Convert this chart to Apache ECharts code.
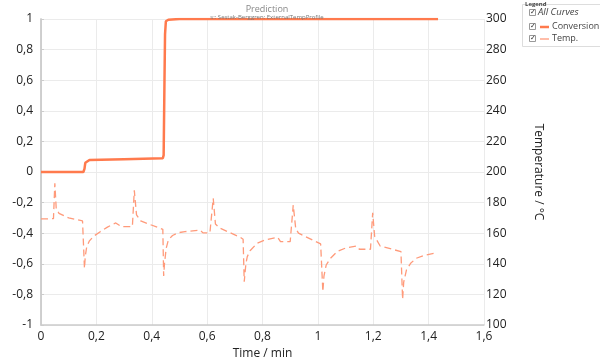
<!DOCTYPE html>
<html><head><meta charset="utf-8">
<script src="https://cdn.jsdelivr.net/npm/echarts@6/dist/echarts.min.js"></script>
<style>html,body{margin:0;padding:0;background:#fff}#c{width:600px;height:361px}</style>
</head><body><div id="c"></div>
<script>
var convTime = [0, 0.153, 0.157, 0.160, 0.163, 0.175, 0.30, 0.44, 0.443, 0.446, 0.448, 0.451, 0.46, 0.50, 1.434];
var convValue = [0, 0, 0.02, 0.06, 0.072, 0.078, 0.084, 0.09, 0.11, 0.60, 0.90, 0.985, 0.995, 1.0, 1.0];
var tempTime = [0, 0.045, 0.050, 0.055, 0.065, 0.10, 0.150, 0.155, 0.157, 0.160, 0.165, 0.175, 0.19, 0.214, 0.24, 0.27, 0.29, 0.33, 0.337, 0.345, 0.36, 0.44, 0.443, 0.446, 0.452, 0.46, 0.475, 0.495, 0.52, 0.575, 0.585, 0.61, 0.622, 0.63, 0.645, 0.72, 0.73, 0.734, 0.74, 0.745, 0.755, 0.78, 0.81, 0.855, 0.865, 0.90, 0.911, 0.92, 0.93, 1.01, 1.018, 1.022, 1.03, 1.045, 1.07, 1.10, 1.14, 1.15, 1.19, 1.198, 1.205, 1.225, 1.30, 1.306, 1.31, 1.32, 1.335, 1.355, 1.385, 1.42];
var tempValue = [169.3, 169.5, 192.6, 176, 173, 170, 168, 167, 137, 145, 151, 155, 158, 161, 164, 166.7, 164.3, 164.3, 188, 172, 168, 162.5, 132, 140, 150, 155.6, 158.5, 160.3, 161, 162, 160.2, 160.2, 182.8, 166, 163.4, 157.3, 156, 128.3, 140, 144.7, 148.5, 153.4, 155.6, 157.3, 154.5, 154.5, 178.4, 163, 160, 153, 121.8, 132, 139.2, 143.5, 148, 150.3, 151.6, 149.5, 149.5, 173.4, 158, 151.6, 148, 116.8, 128, 136, 140.3, 143.6, 145.6, 146.9];

var FONT = '"Open Sans", "Noto Sans", sans-serif';
var convColor = '#ff7a4d';
var tempColor = '#ff9a7a';
function zip(a, b) { return a.map(function (v, i) { return [v, b[i]]; }); }
function comma(v) { return String(+v.toFixed(2)).replace('.', ','); }

var chart = echarts.init(document.getElementById('c'), null, {renderer: 'canvas'});
chart.setOption({
  animation: false,
  backgroundColor: '#fff',
  title: {
    text: 'Prediction',
    subtext: 's:: Sestak-Berggren: ExternalTempProfile',
    left: 262, textAlign: 'center', top: 0, itemGap: 0,
    textStyle: {fontFamily: FONT, fontSize: 9, fontWeight: 'normal', color: '#888'},
    subtextStyle: {fontFamily: FONT, fontSize: 6, color: '#777'}
  },
  grid: {left: 41, right: 116, top: 19, bottom: 36, containLabel: false, outerBoundsMode: 'none'},
  xAxis: {
    type: 'value', min: 0, max: 1.6, interval: 0.2,
    name: 'Time / min', nameLocation: 'middle', nameGap: 22,
    nameTextStyle: {fontFamily: FONT, fontSize: 12, color: '#222'},
    axisLine: {show: true, onZero: false, lineStyle: {color: '#ccc', width: 1.5}},
    axisTick: {show: false},
    axisLabel: {fontFamily: FONT, fontSize: 12, color: '#222', margin: 6, formatter: comma},
    splitLine: {show: true, lineStyle: {color: '#ebebeb', width: 1}}
  },
  yAxis: [{
    type: 'value', min: -1, max: 1, interval: 0.2, position: 'left',
    name: 'Conversion', nameLocation: 'middle', nameGap: 28, nameRotate: 90,
    nameTextStyle: {fontFamily: FONT, fontSize: 12, color: '#222'},
    axisLine: {show: true, onZero: false, lineStyle: {color: '#ccc', width: 1.5}},
    axisTick: {show: false},
    axisLabel: {fontFamily: FONT, fontSize: 12, color: '#222', margin: 8, formatter: comma},
    splitLine: {show: true, lineStyle: {color: '#ebebeb', width: 1}}
  }, {
    type: 'value', min: 100, max: 300, interval: 20, position: 'right',
    name: 'Temperature / °C', nameLocation: 'middle', nameGap: 48, nameRotate: -90,
    nameTextStyle: {fontFamily: FONT, fontSize: 12, color: '#222'},
    axisLine: {show: true, lineStyle: {color: '#ccc', width: 1.5}},
    axisTick: {show: true, length: 3, lineStyle: {color: '#ccc'}},
    axisLabel: {fontFamily: FONT, fontSize: 12, color: '#222', margin: 2},
    splitLine: {show: false}
  }],
  series: [{
    name: 'Conversion', type: 'line', yAxisIndex: 0, showSymbol: false, symbol: 'none',
    data: zip(convTime, convValue),
    lineStyle: {color: convColor, width: 2.5}, z: 3
  }, {
    name: 'Temp.', type: 'line', yAxisIndex: 1, showSymbol: false, symbol: 'none',
    data: zip(tempTime, tempValue),
    lineStyle: {color: tempColor, width: 1.3, type: [7, 4]}, z: 2
  }],
  graphic: [
    {type: 'rect', shape: {x: 522.5, y: 4.5, width: 80, height: 42}, style: {fill: '#fff', stroke: '#ddd', lineWidth: 1}},
    {type: 'text', x: 525, y: 1, style: {text: 'Legend', font: 'bold 6px ' + FONT, fill: '#444'}},
    {type: 'rect', shape: {x: 529.5, y: 9.5, width: 6, height: 6}, style: {fill: '#fff', stroke: '#999'}},
    {type: 'text', x: 529.5, y: 8, style: {text: '✓', font: '7px ' + FONT, fill: '#333'}},
    {type: 'text', x: 538, y: 7, style: {text: 'All Curves', font: 'italic 9.5px ' + FONT, fill: '#444'}},
    {type: 'rect', shape: {x: 529.5, y: 23.5, width: 6, height: 6}, style: {fill: '#fff', stroke: '#999'}},
    {type: 'text', x: 529.5, y: 22, style: {text: '✓', font: '7px ' + FONT, fill: '#333'}},
    {type: 'line', shape: {x1: 540, y1: 27, x2: 549, y2: 27}, style: {stroke: convColor, lineWidth: 2.5}},
    {type: 'text', x: 552, y: 21.5, style: {text: 'Conversion', font: '9px ' + FONT, fill: '#444'}},
    {type: 'rect', shape: {x: 529.5, y: 35.5, width: 6, height: 6}, style: {fill: '#fff', stroke: '#999'}},
    {type: 'text', x: 529.5, y: 34, style: {text: '✓', font: '7px ' + FONT, fill: '#333'}},
    {type: 'line', shape: {x1: 540, y1: 39, x2: 549, y2: 39}, style: {stroke: tempColor, lineWidth: 1.3}},
    {type: 'text', x: 552, y: 33.5, style: {text: 'Temp.', font: '9px ' + FONT, fill: '#444'}}
  ]
});
</script></body></html>
